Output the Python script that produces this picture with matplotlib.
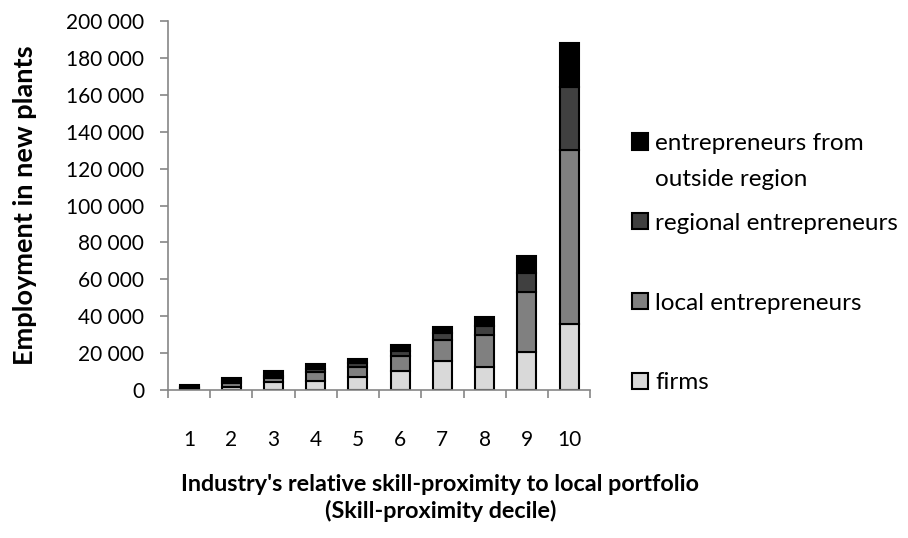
import matplotlib.pyplot as plt
import numpy as np

deciles = ['1', '2', '3', '4', '5', '6', '7', '8', '9', '10']
firms = [400, 1800, 4100, 5000, 6900, 10500, 15900, 12300, 20400, 36000]
local_entr = [600, 2000, 2700, 5000, 5800, 8000, 11200, 17400, 32500, 94000]
regional_entr = [600, 900, 800, 1300, 1800, 2900, 3600, 5100, 10800, 34000]
outside_entr = [1400, 1600, 2600, 2700, 2400, 2900, 3600, 4700, 9000, 24000]

series_labels = ['firms', 'local entrepreneurs', 'regional entrepreneurs',
                 'entrepreneurs from']
series_colors = ['#d9d9d9', '#808080', '#404040', '#000000']

plt.rcParams['font.family'] = ['Lato', 'DejaVu Sans']

fig = plt.figure(figsize=(9.08, 5.38), dpi=100)
ax = fig.add_axes([0.185, 0.275, 0.465, 0.686])

x = np.arange(len(deciles))
bottom = np.zeros(len(deciles))
handles = []
for vals, lab, col in zip([firms, local_entr, regional_entr, outside_entr],
                          series_labels, series_colors):
    b = ax.bar(x, vals, width=0.45, bottom=bottom, color=col,
               edgecolor='black', linewidth=1.5, label=lab)
    handles.append(b)
    bottom += np.array(vals)

ax.set_xlim(-0.5, len(deciles) - 0.5)
ax.set_ylim(0, 200000)
ax.set_yticks(np.arange(0, 200001, 20000))
ax.set_yticklabels([f'{v:,}'.replace(',', ' ') for v in range(0, 200001, 20000)])
ax.set_xticks(x)
ax.set_xticklabels(deciles)
ax.set_xticks(np.arange(-0.5, len(deciles), 1), minor=True)

for s in ['top', 'right']:
    ax.spines[s].set_visible(False)
for s in ['left', 'bottom']:
    ax.spines[s].set_color('#868686')
    ax.spines[s].set_linewidth(1.2)

ax.tick_params(axis='y', length=6, width=1.2, color='#868686', labelsize=15, pad=11)
ax.tick_params(axis='x', which='major', length=0, labelsize=15, pad=29)
ax.tick_params(axis='x', which='minor', length=6, width=1.2, color='#868686')

ax.set_ylabel('Employment in new plants', fontsize=19.5, fontweight='bold', labelpad=21)
ax.set_xlabel("Industry's relative skill-proximity to local portfolio\n(Skill-proximity decile)",
              fontsize=16.8, fontweight='bold', labelpad=17, linespacing=1.3)
ax.xaxis.label.set_x(0.645)

leg = ax.legend(handles[::-1], series_labels[::-1], loc='upper left',
                bbox_to_anchor=(632 / 908, 1 - 133 / 538), bbox_transform=fig.transFigure,
                frameon=False, fontsize=17.5, labelspacing=2.42,
                handlelength=0.65, handleheight=0.65, handletextpad=0.3,
                borderpad=0, borderaxespad=0)

# second line of the first legend entry (drawn after the legend)
ax.annotate('outside region', xy=(0, 0), xycoords=leg.get_texts()[0],
            xytext=(0, -11), textcoords='offset points', ha='left', va='top',
            fontsize=17.5, zorder=6)

fig.savefig('out.png', dpi=100)
